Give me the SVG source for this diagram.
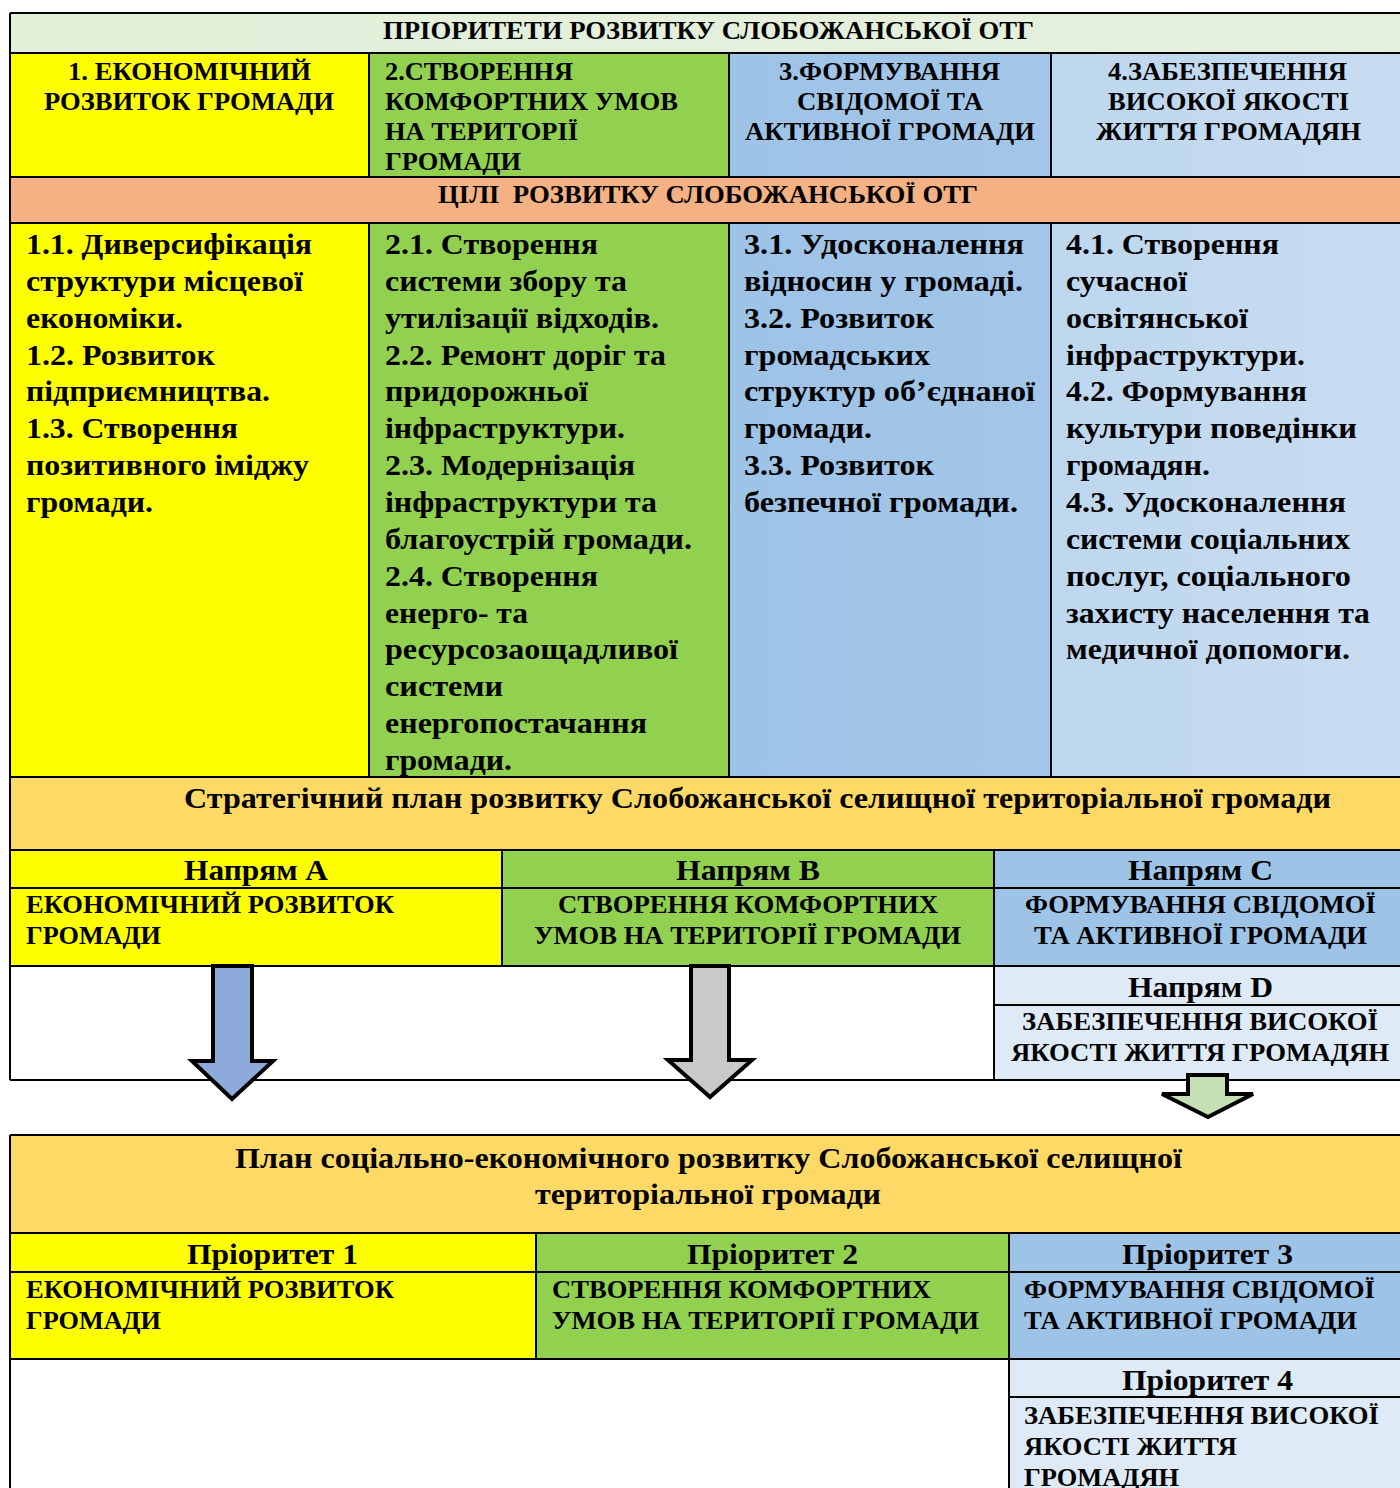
<svg xmlns="http://www.w3.org/2000/svg" width="1400" height="1488" viewBox="0 0 1400 1488">
<style>
text{font-family:"Liberation Serif","Times New Roman",serif;font-weight:bold;fill:#000;}
.t{font-size:25px;}
.c{font-size:26px;}
.g{font-size:30px;}
.s{font-size:30px;}
.n{font-size:29px;}
.ln{stroke:#000;stroke-width:2;fill:none;}
.arr{stroke:#000;stroke-width:4;stroke-linejoin:miter;}
</style>
<defs>
<linearGradient id="gb3" x1="0" y1="0" x2="1" y2="0"><stop offset="0" stop-color="#9dc3e6"/><stop offset="1" stop-color="#a3c6e8"/></linearGradient>
<linearGradient id="gb4" x1="0" y1="0" x2="1" y2="0"><stop offset="0" stop-color="#bdd7ee"/><stop offset="1" stop-color="#c8dcf1"/></linearGradient>
<linearGradient id="gt" x1="0" y1="0" x2="1" y2="0"><stop offset="0" stop-color="#e2efd9"/><stop offset="1" stop-color="#e4f0dc"/></linearGradient>
</defs>
<rect width="1400" height="1488" fill="#fff"/>

<g id="title-priorities">
<rect x="10" y="13" width="1392" height="40" fill="url(#gt)"/>
<text class="t" x="383" y="39" textLength="651" lengthAdjust="spacingAndGlyphs">ПРІОРИТЕТИ РОЗВИТКУ СЛОБОЖАНСЬКОЇ ОТГ</text>
</g>
<g id="priority-1">
<rect x="10" y="53" width="359" height="124" fill="#ffff00"/>
<text class="c" x="68" y="80" textLength="243" lengthAdjust="spacingAndGlyphs">1. ЕКОНОМІЧНИЙ</text>
<text class="c" x="44" y="110" textLength="290" lengthAdjust="spacingAndGlyphs">РОЗВИТОК ГРОМАДИ</text>
</g>
<g id="priority-2">
<rect x="369" y="53" width="360" height="124" fill="#92d050"/>
<text class="c" x="385" y="80" textLength="188" lengthAdjust="spacingAndGlyphs">2.СТВОРЕННЯ</text>
<text class="c" x="385" y="110" textLength="293" lengthAdjust="spacingAndGlyphs">КОМФОРТНИХ УМОВ</text>
<text class="c" x="385" y="140" textLength="193" lengthAdjust="spacingAndGlyphs">НА ТЕРИТОРІЇ</text>
<text class="c" x="385" y="170" textLength="136" lengthAdjust="spacingAndGlyphs">ГРОМАДИ</text>
</g>
<g id="priority-3">
<rect x="729" y="53" width="322" height="124" fill="url(#gb3)"/>
<text class="c" x="779" y="80" textLength="221" lengthAdjust="spacingAndGlyphs">3.ФОРМУВАННЯ</text>
<text class="c" x="797" y="110" textLength="186" lengthAdjust="spacingAndGlyphs">СВІДОМОЇ ТА</text>
<text class="c" x="745" y="140" textLength="290" lengthAdjust="spacingAndGlyphs">АКТИВНОЇ ГРОМАДИ</text>
</g>
<g id="priority-4">
<rect x="1051" y="53" width="351" height="124" fill="url(#gb4)"/>
<text class="c" x="1108" y="80" textLength="239" lengthAdjust="spacingAndGlyphs">4.ЗАБЕЗПЕЧЕННЯ</text>
<text class="c" x="1108" y="110" textLength="241" lengthAdjust="spacingAndGlyphs">ВИСОКОЇ ЯКОСТІ</text>
<text class="c" x="1096" y="140" textLength="265" lengthAdjust="spacingAndGlyphs">ЖИТТЯ ГРОМАДЯН</text>
</g>
<g id="title-goals">
<rect x="10" y="177" width="1392" height="46" fill="#f4b183"/>
<text class="t" x="438" y="203" textLength="540" lengthAdjust="spacingAndGlyphs" xml:space="preserve">ЦІЛІ  РОЗВИТКУ СЛОБОЖАНСЬКОЇ ОТГ</text>
</g>
<g id="goals-1">
<rect x="10" y="223" width="359" height="554" fill="#ffff00"/>
<text class="g" x="26" y="254" textLength="286" lengthAdjust="spacingAndGlyphs">1.1. Диверсифікація</text>
<text class="g" x="26" y="290.9" textLength="277" lengthAdjust="spacingAndGlyphs">структури місцевої</text>
<text class="g" x="26" y="327.7" textLength="157" lengthAdjust="spacingAndGlyphs">економіки.</text>
<text class="g" x="26" y="364.6" textLength="189" lengthAdjust="spacingAndGlyphs">1.2. Розвиток</text>
<text class="g" x="26" y="401.4" textLength="244" lengthAdjust="spacingAndGlyphs">підприємництва.</text>
<text class="g" x="26" y="438.3" textLength="212" lengthAdjust="spacingAndGlyphs">1.3. Створення</text>
<text class="g" x="26" y="475.1" textLength="283" lengthAdjust="spacingAndGlyphs">позитивного іміджу</text>
<text class="g" x="26" y="512" textLength="127" lengthAdjust="spacingAndGlyphs">громади.</text>
</g>
<g id="goals-2">
<rect x="369" y="223" width="360" height="554" fill="#92d050"/>
<text class="g" x="385" y="254" textLength="213" lengthAdjust="spacingAndGlyphs">2.1. Створення</text>
<text class="g" x="385" y="290.9" textLength="242" lengthAdjust="spacingAndGlyphs">системи збору та</text>
<text class="g" x="385" y="327.7" textLength="274" lengthAdjust="spacingAndGlyphs">утилізації відходів.</text>
<text class="g" x="385" y="364.6" textLength="281" lengthAdjust="spacingAndGlyphs">2.2. Ремонт доріг та</text>
<text class="g" x="385" y="401.4" textLength="203" lengthAdjust="spacingAndGlyphs">придорожньої</text>
<text class="g" x="385" y="438.3" textLength="240" lengthAdjust="spacingAndGlyphs">інфраструктури.</text>
<text class="g" x="385" y="475.1" textLength="250" lengthAdjust="spacingAndGlyphs">2.3. Модернізація</text>
<text class="g" x="385" y="512" textLength="272" lengthAdjust="spacingAndGlyphs">інфраструктури та</text>
<text class="g" x="385" y="548.8" textLength="307" lengthAdjust="spacingAndGlyphs">благоустрій громади.</text>
<text class="g" x="385" y="585.7" textLength="213" lengthAdjust="spacingAndGlyphs">2.4. Створення</text>
<text class="g" x="385" y="622.5" textLength="143" lengthAdjust="spacingAndGlyphs">енерго- та</text>
<text class="g" x="385" y="659.4" textLength="293" lengthAdjust="spacingAndGlyphs">ресурсозаощадливої</text>
<text class="g" x="385" y="696.2" textLength="118" lengthAdjust="spacingAndGlyphs">системи</text>
<text class="g" x="385" y="733.1" textLength="262" lengthAdjust="spacingAndGlyphs">енергопостачання</text>
<text class="g" x="385" y="769.9" textLength="127" lengthAdjust="spacingAndGlyphs">громади.</text>
</g>
<g id="goals-3">
<rect x="729" y="223" width="322" height="554" fill="url(#gb3)"/>
<text class="g" x="744" y="254" textLength="280" lengthAdjust="spacingAndGlyphs">3.1. Удосконалення</text>
<text class="g" x="744" y="290.9" textLength="279" lengthAdjust="spacingAndGlyphs">відносин у громаді.</text>
<text class="g" x="744" y="327.7" textLength="190" lengthAdjust="spacingAndGlyphs">3.2. Розвиток</text>
<text class="g" x="744" y="364.6" textLength="186" lengthAdjust="spacingAndGlyphs">громадських</text>
<text class="g" x="744" y="401.4" textLength="291" lengthAdjust="spacingAndGlyphs">структур об’єднаної</text>
<text class="g" x="744" y="438.3" textLength="128" lengthAdjust="spacingAndGlyphs">громади.</text>
<text class="g" x="744" y="475.1" textLength="190" lengthAdjust="spacingAndGlyphs">3.3. Розвиток</text>
<text class="g" x="744" y="512" textLength="274" lengthAdjust="spacingAndGlyphs">безпечної громади.</text>
</g>
<g id="goals-4">
<rect x="1051" y="223" width="351" height="554" fill="url(#gb4)"/>
<text class="g" x="1066" y="254" textLength="213" lengthAdjust="spacingAndGlyphs">4.1. Створення</text>
<text class="g" x="1066" y="290.9" textLength="121" lengthAdjust="spacingAndGlyphs">сучасної</text>
<text class="g" x="1066" y="327.7" textLength="182" lengthAdjust="spacingAndGlyphs">освітянської</text>
<text class="g" x="1066" y="364.6" textLength="239" lengthAdjust="spacingAndGlyphs">інфраструктури.</text>
<text class="g" x="1066" y="401.4" textLength="241" lengthAdjust="spacingAndGlyphs">4.2. Формування</text>
<text class="g" x="1066" y="438.3" textLength="291" lengthAdjust="spacingAndGlyphs">культури поведінки</text>
<text class="g" x="1066" y="475.1" textLength="144" lengthAdjust="spacingAndGlyphs">громадян.</text>
<text class="g" x="1066" y="512" textLength="280" lengthAdjust="spacingAndGlyphs">4.3. Удосконалення</text>
<text class="g" x="1066" y="548.8" textLength="284" lengthAdjust="spacingAndGlyphs">системи соціальних</text>
<text class="g" x="1066" y="585.7" textLength="285" lengthAdjust="spacingAndGlyphs">послуг, соціального</text>
<text class="g" x="1066" y="622.5" textLength="304" lengthAdjust="spacingAndGlyphs">захисту населення та</text>
<text class="g" x="1066" y="659.4" textLength="284" lengthAdjust="spacingAndGlyphs">медичної допомоги.</text>
</g>
<g id="strategic-plan">
<rect x="10" y="777" width="1392" height="73" fill="#ffd966"/>
<text class="s" x="184" y="808" textLength="1147" lengthAdjust="spacingAndGlyphs">Стратегічний план розвитку Слобожанської селищної територіальної громади</text>
</g>
<g id="direction-a">
<rect x="10" y="850" width="492" height="116" fill="#ffff00"/>
<text class="n" x="184" y="880" textLength="144" lengthAdjust="spacingAndGlyphs">Напрям A</text>
<text class="c" x="26" y="913" textLength="368" lengthAdjust="spacingAndGlyphs">ЕКОНОМІЧНИЙ РОЗВИТОК</text>
<text class="c" x="26" y="944" textLength="135" lengthAdjust="spacingAndGlyphs">ГРОМАДИ</text>
</g>
<g id="direction-b">
<rect x="502" y="850" width="492" height="116" fill="#92d050"/>
<text class="n" x="676" y="880" textLength="144" lengthAdjust="spacingAndGlyphs">Напрям B</text>
<text class="c" x="558" y="913" textLength="380" lengthAdjust="spacingAndGlyphs">СТВОРЕННЯ КОМФОРТНИХ</text>
<text class="c" x="534" y="944" textLength="427" lengthAdjust="spacingAndGlyphs">УМОВ НА ТЕРИТОРІЇ ГРОМАДИ</text>
</g>
<g id="direction-c">
<rect x="994" y="850" width="408" height="116" fill="#9dc3e6"/>
<text class="n" x="1128" y="880" textLength="145" lengthAdjust="spacingAndGlyphs">Напрям C</text>
<text class="c" x="1025" y="913" textLength="351" lengthAdjust="spacingAndGlyphs">ФОРМУВАННЯ СВІДОМОЇ</text>
<text class="c" x="1034" y="944" textLength="333" lengthAdjust="spacingAndGlyphs">ТА АКТИВНОЇ ГРОМАДИ</text>
</g>
<g id="direction-d">
<rect x="994" y="966" width="408" height="114" fill="#deebf7"/>
<text class="n" x="1128" y="997" textLength="145" lengthAdjust="spacingAndGlyphs">Напрям D</text>
<text class="c" x="1022" y="1030" textLength="356" lengthAdjust="spacingAndGlyphs">ЗАБЕЗПЕЧЕННЯ ВИСОКОЇ</text>
<text class="c" x="1011" y="1061" textLength="378" lengthAdjust="spacingAndGlyphs">ЯКОСТІ ЖИТТЯ ГРОМАДЯН</text>
</g>
<g id="socio-economic-plan">
<rect x="10" y="1135" width="1392" height="98" fill="#ffd966"/>
<text class="s" x="235" y="1168" textLength="947" lengthAdjust="spacingAndGlyphs">План соціально-економічного розвитку Слобожанської селищної</text>
<text class="s" x="535" y="1204" textLength="346" lengthAdjust="spacingAndGlyphs">територіальної громади</text>
</g>
<g id="priority-plan-1">
<rect x="10" y="1233" width="526" height="126" fill="#ffff00"/>
<text class="n" x="187" y="1264" textLength="171" lengthAdjust="spacingAndGlyphs">Пріоритет 1</text>
<text class="c" x="26" y="1298" textLength="368" lengthAdjust="spacingAndGlyphs">ЕКОНОМІЧНИЙ РОЗВИТОК</text>
<text class="c" x="26" y="1329" textLength="135" lengthAdjust="spacingAndGlyphs">ГРОМАДИ</text>
</g>
<g id="priority-plan-2">
<rect x="536" y="1233" width="473" height="126" fill="#92d050"/>
<text class="n" x="687" y="1264" textLength="171" lengthAdjust="spacingAndGlyphs">Пріоритет 2</text>
<text class="c" x="552" y="1298" textLength="379" lengthAdjust="spacingAndGlyphs">СТВОРЕННЯ КОМФОРТНИХ</text>
<text class="c" x="552" y="1329" textLength="427" lengthAdjust="spacingAndGlyphs">УМОВ НА ТЕРИТОРІЇ ГРОМАДИ</text>
</g>
<g id="priority-plan-3">
<rect x="1009" y="1233" width="393" height="126" fill="#9dc3e6"/>
<text class="n" x="1122" y="1264" textLength="171" lengthAdjust="spacingAndGlyphs">Пріоритет 3</text>
<text class="c" x="1024" y="1298" textLength="351" lengthAdjust="spacingAndGlyphs">ФОРМУВАННЯ СВІДОМОЇ</text>
<text class="c" x="1024" y="1329" textLength="333" lengthAdjust="spacingAndGlyphs">ТА АКТИВНОЇ ГРОМАДИ</text>
</g>
<g id="priority-plan-4">
<rect x="1009" y="1359" width="393" height="131" fill="#deebf7"/>
<text class="n" x="1122" y="1390" textLength="171" lengthAdjust="spacingAndGlyphs">Пріоритет 4</text>
<text class="c" x="1024" y="1424" textLength="355" lengthAdjust="spacingAndGlyphs">ЗАБЕЗПЕЧЕННЯ ВИСОКОЇ</text>
<text class="c" x="1024" y="1455" textLength="213" lengthAdjust="spacingAndGlyphs">ЯКОСТІ ЖИТТЯ</text>
<text class="c" x="1024" y="1486" textLength="155" lengthAdjust="spacingAndGlyphs">ГРОМАДЯН</text>
</g>

<g id="grid">
<path class="ln" d="M10 13H1402 M10 53H1402 M10 177H1402 M10 223H1402 M10 777H1402 M10 850H1402 M10 888H1402 M10 966H1402 M994 1005H1402 M10 1080H1402 M10 13V1080 M369 53V177 M729 53V177 M1051 53V177 M369 223V777 M729 223V777 M1051 223V777 M502 850V966 M994 850V1080"/>
<path class="ln" d="M10 1135H1402 M10 1233H1402 M10 1272H1402 M10 1359H1402 M1009 1397H1402 M10 1135V1490 M536 1233V1359 M1009 1233V1490"/>
</g>

<g id="connectors">
<polygon class="arr" fill="#8eaadb" points="213,966 252,966 252,1061 273,1061 232,1099 192,1061 213,1061"/>
<polygon class="arr" fill="#c9c9c9" points="691,966 729,966 729,1060 752,1060 710,1097 668,1060 691,1060"/>
<polygon class="arr" fill="#c5e0b4" points="1188,1075 1227,1075 1227,1094 1253,1094 1208,1117 1162,1094 1188,1094"/>
</g>
</svg>
